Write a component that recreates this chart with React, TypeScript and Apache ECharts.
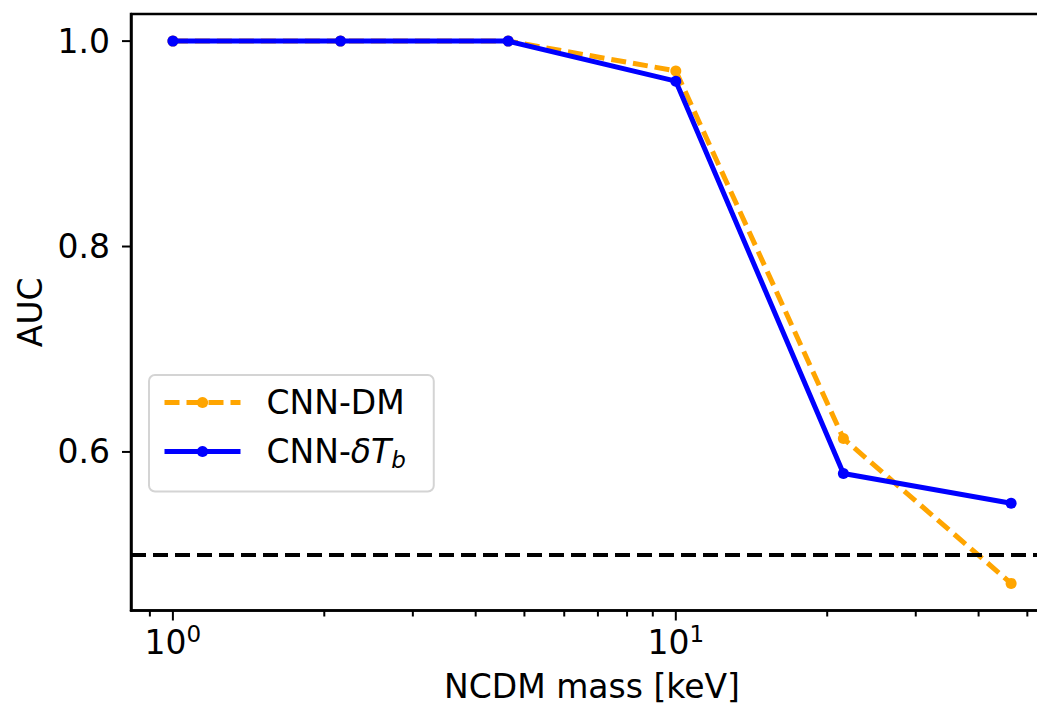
import React, { useEffect, useRef } from "react";
import * as echarts from "echarts";

const massKeV = [1, 2.154, 4.642, 10, 21.54, 46.42];
const aucCnnDm = [1.0, 1.0, 1.0, 0.971, 0.613, 0.472];
const aucCnnDTb = [1.0, 1.0, 1.0, 0.961, 0.579, 0.55];
const chanceLevel = 0.5;
const xMajorTicks = [1, 10];
const xMinorTicks = [0.9, 2, 3, 4, 5, 6, 7, 8, 9, 20, 30, 40, 50];
const yTickLabels = [0.6, 0.8, 1.0];

const X_MIN = Math.pow(10, -0.0833);
const X_MAX = Math.pow(10, 1.75);
const Y_MIN = 0.4456;
const Y_MAX = 1.0264;
const FONT = "DejaVu Sans";

export default function App() {
  const ref = useRef<HTMLDivElement>(null);
  useEffect(() => {
    if (!ref.current) return;
    const chart = echarts.init(ref.current, undefined, { renderer: "svg" });
    const xTickData = [
      ...xMajorTicks.map((v) => [v, Y_MIN, 10]),
      ...xMinorTicks.map((v) => [v, Y_MIN, 6]),
    ];
    const yTickData = yTickLabels.map((v) => [X_MIN, v, 9]);
    chart.setOption({
      animation: false,
      textStyle: { fontFamily: FONT },
      grid: {
        left: 131,
        top: 14,
        width: 922,
        height: 596.5,
        outerBoundsMode: "none",
        containLabel: false,
        show: true,
        borderColor: "#000",
        borderWidth: 2.5,
        backgroundColor: "transparent",
      },
      legend: {
        orient: "vertical",
        left: 149,
        top: 375,
        data: [
          { name: "CNN-DM", lineStyle: { width: 5, type: [15, 7], color: "#FFA500" } },
          { name: "CNN-dTb", lineStyle: { width: 5, type: "solid", color: "#0000FF" } },
        ],
        itemWidth: 76,
        itemHeight: 14,
        itemGap: 16,
        padding: [11, 28, 20, 13],
        backgroundColor: "rgba(255,255,255,0.8)",
        borderColor: "#d4d4d4",
        borderWidth: 2,
        borderRadius: 6,
        formatter: (name: string) =>
          name === "CNN-DM" ? "{t|CNN-DM}" : "{t|CNN-}{i|δT}{sb|b}",
        textStyle: {
          fontFamily: FONT,
          fontSize: 33,
          color: "#000",
          rich: {
            t: { fontFamily: FONT, fontSize: 33, lineHeight: 40, color: "#000", padding: [0, 0, 0, 21] },
            i: { fontFamily: FONT, fontSize: 33, lineHeight: 40, fontStyle: "italic", color: "#000" },
            sb: { fontFamily: FONT, fontSize: 23, lineHeight: 20, fontStyle: "italic", color: "#000", verticalAlign: "bottom" },
          },
        },
      },
      xAxis: {
        type: "log",
        logBase: 10,
        min: X_MIN,
        max: X_MAX,
        name: "NCDM mass [keV]",
        nameLocation: "middle",
        nameGap: 59,
        nameTextStyle: { fontFamily: FONT, fontSize: 33, color: "#000" },
        axisLine: { show: true, onZero: false, lineStyle: { color: "#000", width: 2.5 } },
        axisTick: { show: false },
        splitLine: { show: false },
        minorTick: { show: false },
        axisLabel: {
          margin: 12,
          formatter: (v: number) => {
            const l = Math.log10(v);
            if (Math.abs(l - Math.round(l)) > 1e-6) return "";
            return `{n|10}{s|${Math.round(l)}}`;
          },
          rich: {
            n: { fontFamily: FONT, fontSize: 33, lineHeight: 40, color: "#000" },
            s: { fontFamily: FONT, fontSize: 23, lineHeight: 23, color: "#000", verticalAlign: "top" },
          },
        },
      },
      yAxis: {
        type: "value",
        min: Y_MIN,
        max: Y_MAX,
        name: "AUC",
        nameLocation: "middle",
        nameGap: 84,
        nameTextStyle: { fontFamily: FONT, fontSize: 33, color: "#000" },
        axisLine: { show: true, onZero: false, lineStyle: { color: "#000", width: 2.5 } },
        axisTick: { show: false },
        splitLine: { show: false },
        axisLabel: {
          margin: 21,
          fontFamily: FONT,
          fontSize: 33,
          color: "#000",
          formatter: (v: number) => {
            const t = yTickLabels.find((y) => Math.abs(y - v) < 1e-6);
            return t === undefined ? "" : t.toFixed(1);
          },
        },
      },
      series: [
        {
          name: "CNN-DM",
          type: "line",
          data: massKeV.map((m, i) => [m, aucCnnDm[i]]),
          symbol: "circle",
          symbolSize: 11,
          itemStyle: { color: "#FFA500" },
          lineStyle: { color: "#FFA500", width: 5, type: [15, 7] },
          z: 2,
        },
        {
          name: "CNN-dTb",
          type: "line",
          data: massKeV.map((m, i) => [m, aucCnnDTb[i]]),
          symbol: "circle",
          symbolSize: 11,
          itemStyle: { color: "#0000FF" },
          lineStyle: { color: "#0000FF", width: 5 },
          z: 3,
          markLine: {
            silent: true,
            symbol: "none",
            label: { show: false },
            lineStyle: { color: "#000", width: 4, type: [15, 7] },
            data: [{ yAxis: chanceLevel }],
          },
        },
        {
          name: "xticks",
          type: "custom",
          silent: true,
          clip: false,
          encode: { x: 0, y: 1 },
          data: xTickData,
          renderItem: (params: any, api: any) => {
            const p = api.coord([api.value(0), Y_MIN]);
            return {
              type: "line",
              shape: { x1: p[0], y1: p[1], x2: p[0], y2: p[1] + api.value(2) },
              style: { stroke: "#000", lineWidth: 2 },
            };
          },
        },
        {
          name: "yticks",
          type: "custom",
          silent: true,
          clip: false,
          encode: { x: 0, y: 1 },
          data: yTickData,
          renderItem: (params: any, api: any) => {
            const p = api.coord([X_MIN, api.value(1)]);
            return {
              type: "line",
              shape: { x1: p[0] - api.value(2), y1: p[1], x2: p[0], y2: p[1] },
              style: { stroke: "#000", lineWidth: 2 },
            };
          },
        },
      ],
    });
    return () => chart.dispose();
  }, []);
  return (
    <div
      ref={ref}
      style={{ position: "absolute", left: 0, top: 0, width: 1037, height: 708, background: "#fff" }}
    />
  );
}
